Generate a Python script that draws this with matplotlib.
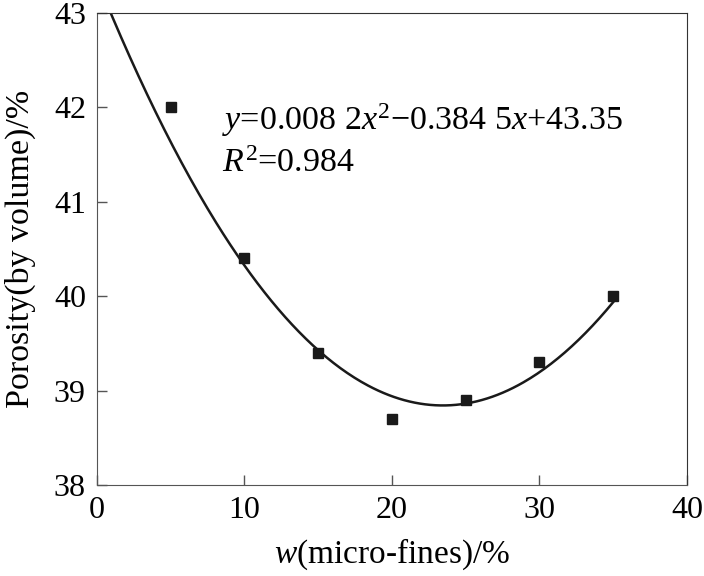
import numpy as np
import matplotlib
matplotlib.use('Agg')
from matplotlib import pyplot as plt

matplotlib.rc('font', family='Liberation Serif', size=23)
matplotlib.rc('mathtext', fontset='custom', rm='Liberation Serif',
              it='Liberation Serif:italic')

# measured points
fines = [5, 10, 15, 20, 25, 30, 35]
porosity = [42.0, 40.4, 39.4, 38.7, 38.9, 39.3, 40.0]
# quadratic fit as printed on the chart
fit_coef = [0.0082, -0.3845, 43.35]
r2 = 0.984

fig = plt.figure(figsize=(7.04, 5.76), dpi=100)
ax = fig.add_axes([0.1378, 0.158, 0.838, 0.8194])

xs = np.linspace(0, 35, 300)
ax.plot(xs, np.polyval(fit_coef, xs), color='#1a1a1a', lw=1.8)
ax.plot(fines, porosity, 's', color='#1a1a1a', ms=7.5, ls='none')

ax.set_xlim(0, 40)
ax.set_ylim(38, 43)
ax.set_xticks([0, 10, 20, 30, 40])
ax.set_yticks([38, 39, 40, 41, 42, 43])
ax.tick_params(direction='in', length=7, width=1, color='#555555', pad=8)
for side in ['left', 'bottom']:
    ax.spines[side].set_color('#555555')
for side in ['top', 'right']:
    ax.spines[side].set_color('#333333')

ax.text(8.5, 41.76, r'$y$=0.008 2$x^{2}$' + '\u2212' + r'0.384 5$x$+43.35', fontsize=24.5)
ax.text(8.5, 41.32, r'$R^{2}$=%.3f' % r2, fontsize=24.5)

ax.set_xlabel(r'$w$(micro-fines)/%', fontsize=24, labelpad=8)
ax.set_ylabel('Porosity(by volume)/%', fontsize=24.5, labelpad=13)

plt.savefig('out.png', dpi=100)
